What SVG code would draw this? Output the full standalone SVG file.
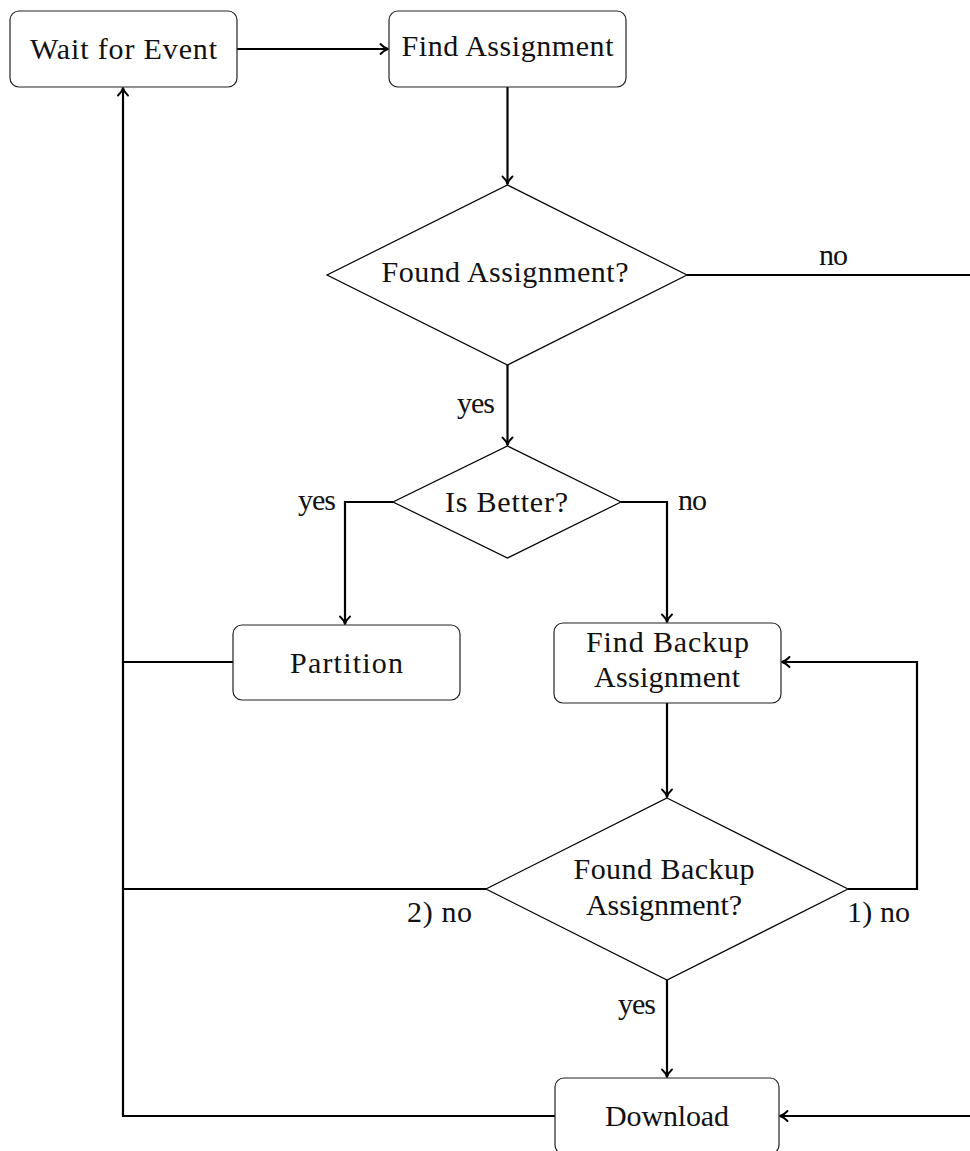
<svg xmlns="http://www.w3.org/2000/svg" width="970" height="1151" viewBox="0 0 970 1151">
  <defs>
    <marker id="arrow" markerUnits="userSpaceOnUse" markerWidth="14" markerHeight="14" viewBox="-10 -7 14 14" refX="0" refY="0" orient="auto">
      <path d="M -7.5 -5 C -5 -2.2 -2.2 -0.6 0 0 C -2.2 0.6 -5 2.2 -7.5 5" fill="none" stroke="#000" stroke-width="1.9" stroke-linecap="round" stroke-linejoin="round"/>
    </marker>
    <style>
      .box { fill: #fff; stroke: #222; stroke-width: 1.2; }
      .dia { fill: #fff; stroke: #000; stroke-width: 1.2; }
      .lbl { font-family: "Liberation Serif", "Times New Roman", serif; font-size: 30px; fill: #111; }
      .mid { text-anchor: middle; }
      .end { text-anchor: end; }
      .edge { fill: none; stroke: #000; stroke-width: 2.2; }
      .arr { marker-end: url(#arrow); }
    </style>
  </defs>

  <!-- connectors -->
  <g id="edges">
    <path class="edge arr" d="M 237 49 H 388"/>
    <path class="edge arr" d="M 507.5 87 V 184"/>
    <path class="edge" d="M 687 275 H 970"/>
    <path class="edge arr" d="M 507.5 365 V 445"/>
    <path class="edge arr" d="M 393 502 H 345 V 624"/>
    <path class="edge arr" d="M 621 502 H 667 V 622"/>
    <path class="edge" d="M 233 662 H 123"/>
    <path class="edge arr" d="M 667 703 V 797"/>
    <path class="edge arr" d="M 848 889 H 917 V 662 H 782"/>
    <path class="edge" d="M 486 889 H 123"/>
    <path class="edge arr" d="M 667 980 V 1077"/>
    <path class="edge arr" d="M 555 1116 H 123 V 88"/>
    <path class="edge arr" d="M 970 1116 H 780"/>

    <text class="lbl" x="819" y="265" textLength="29">no</text>
    <text class="lbl end" x="495" y="413" textLength="38">yes</text>
    <text class="lbl end" x="336" y="510" textLength="38">yes</text>
    <text class="lbl" x="678" y="510" textLength="29">no</text>
    <text class="lbl end" x="472" y="922" textLength="65">2) no</text>
    <text class="lbl" x="847" y="922" textLength="63">1) no</text>
    <text class="lbl end" x="656" y="1014" textLength="38">yes</text>
  </g>

  <g id="wait-for-event">
    <rect class="box" x="10" y="11" width="227" height="76" rx="9"/>
    <text class="lbl mid" x="123.5" y="59" textLength="187">Wait for Event</text>
  </g>

  <g id="find-assignment">
    <rect class="box" x="389" y="11" width="237" height="76" rx="9"/>
    <text class="lbl mid" x="507.5" y="56" textLength="212">Find Assignment</text>
  </g>

  <g id="found-assignment">
    <polygon class="dia" points="507.5,185 687,275 507.5,365 327,275"/>
    <text class="lbl mid" x="505" y="282" textLength="247">Found Assignment?</text>
  </g>

  <g id="is-better">
    <polygon class="dia" points="507.5,446 621,502 507.5,558 393,502"/>
    <text class="lbl mid" x="506.5" y="512" textLength="123">Is Better?</text>
  </g>

  <g id="partition">
    <rect class="box" x="233" y="625" width="227" height="75" rx="9"/>
    <text class="lbl mid" x="346.5" y="673" textLength="113">Partition</text>
  </g>

  <g id="find-backup-assignment">
    <rect class="box" x="554" y="623" width="227" height="80" rx="9"/>
    <text class="lbl mid" x="667.5" y="652" textLength="163">Find Backup</text>
    <text class="lbl mid" x="667" y="687" textLength="146">Assignment</text>
  </g>

  <g id="found-backup-assignment">
    <polygon class="dia" points="667,798 848,889 667,980 486,889"/>
    <text class="lbl mid" x="664" y="879" textLength="181">Found Backup</text>
    <text class="lbl mid" x="664" y="915" textLength="156">Assignment?</text>
  </g>

  <g id="download">
    <rect class="box" x="555" y="1078" width="224" height="76" rx="9"/>
    <text class="lbl mid" x="667" y="1126" textLength="124">Download</text>
  </g>
</svg>
